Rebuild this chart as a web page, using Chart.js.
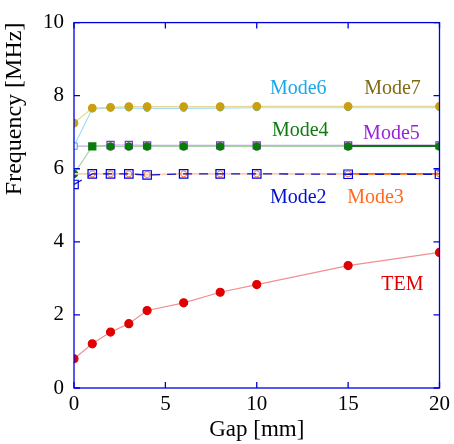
<!DOCTYPE html>
<html>
<head>
    <title>Frequency vs Gap</title>
    <script src="https://cdn.jsdelivr.net/npm/chart.js"></script>
    <style>
        html, body { margin: 0; padding: 0; background: #fff; }
    </style>
</head>
<body>
    <div style="width: 454px; height: 444px;">
        <canvas id="myChart" width="454" height="444"></canvas>
    </div>

    <script>
        // Gap values [mm]
        var gaps = [0, 1, 2, 3, 4, 6, 8, 10, 15, 20];

        // Frequencies [MHz] per mode
        var tem   = [0.80, 1.21, 1.53, 1.76, 2.12, 2.33, 2.62, 2.83, 3.35, 3.71];
        var mode2 = [5.57, 5.86, 5.86, 5.86, 5.83, 5.86, 5.86, 5.86, 5.85, 5.85];
        var mode3 = [5.86, 5.86, 5.86, 5.86, 5.84, 5.86, 5.86, 5.86, 5.86, 5.86];
        var mode4 = [5.86, 6.61, 6.61, 6.61, 6.61, 6.61, 6.61, 6.61, 6.61, 6.61];
        var mode5 = [6.62, 6.62, 6.65, 6.65, 6.64, 6.64, 6.64, 6.64, 6.64, 6.64];
        var mode6 = [6.62, 7.64, 7.66, 7.66, 7.65, 7.65, 7.66, 7.67, 7.67, 7.67];
        var mode7 = [7.25, 7.66, 7.68, 7.70, 7.70, 7.70, 7.70, 7.71, 7.71, 7.71];

        // Tick labels
        var xTicks = [0, 5, 10, 15, 20];
        var yTicks = [0, 2, 4, 6, 8, 10];

        // Text labels placed on the plot (data coordinates)
        var labelNames = ['Mode6', 'Mode7', 'Mode4', 'Mode5', 'Mode2', 'Mode3', 'TEM'];
        var labelX     = [12.27, 17.43, 12.38, 17.37, 12.27, 16.5, 17.97];
        var labelY     = [8.2, 8.2, 7.05, 6.95, 5.2, 5.2, 2.83];
        var labelColors = ['#1aa8e8', '#7f6a10', '#107a10', '#9a22d8', '#0010d0', '#ff6a20', '#e00000'];

        var serif = "'Liberation Serif', 'DejaVu Serif', serif";
        var axisBlue = '#0000dd';

        function pts(ys) {
            return gaps.map(function (g, i) { return { x: g, y: ys[i] }; });
        }

        // last segment drawn in a darker shade
        function lastDark(light, dark) {
            return {
                borderColor: function (ctx) {
                    return ctx.p1DataIndex === gaps.length - 1 ? dark : light;
                }
            };
        }

        var frame = {
            id: 'frame',
            afterDraw: function (chart) {
                var c = chart.ctx, a = chart.chartArea;
                var xs = chart.scales.x, ys = chart.scales.y;
                c.save();
                c.strokeStyle = axisBlue;
                c.lineWidth = 1.3;
                c.strokeRect(a.left, a.top, a.right - a.left, a.bottom - a.top);
                c.beginPath();
                xTicks.forEach(function (t) {
                    var px = xs.getPixelForValue(t);
                    c.moveTo(px, a.bottom); c.lineTo(px, a.bottom - 6);
                    c.moveTo(px, a.top); c.lineTo(px, a.top + 6);
                });
                yTicks.forEach(function (t) {
                    var py = ys.getPixelForValue(t);
                    c.moveTo(a.left, py); c.lineTo(a.left + 6, py);
                    c.moveTo(a.right, py); c.lineTo(a.right - 6, py);
                });
                c.stroke();

                c.font = '20px ' + serif;
                c.textAlign = 'center';
                c.textBaseline = 'middle';
                labelNames.forEach(function (n, i) {
                    c.fillStyle = labelColors[i];
                    c.fillText(n, xs.getPixelForValue(labelX[i]), ys.getPixelForValue(labelY[i]));
                });
                c.restore();
            }
        };

        var ctx = document.getElementById('myChart').getContext('2d');
        var myChart = new Chart(ctx, {
            type: 'scatter',
            data: {
                datasets: [
                    {
                        label: 'TEM', data: pts(tem), showLine: true,
                        borderColor: '#f09090', borderWidth: 1.2,
                        pointBackgroundColor: '#e00000', pointBorderColor: '#e00000',
                        pointRadius: 4
                    },
                    {
                        label: 'Mode2', data: pts(mode2), showLine: true,
                        borderColor: '#1010c0', borderWidth: 1.3, borderDash: [9, 7],
                        pointBackgroundColor: 'rgba(0,0,0,0)', pointBorderColor: '#0000e0',
                        pointStyle: 'rect', pointRadius: 6, pointBorderWidth: 1.2
                    },
                    {
                        label: 'Mode3', data: pts(mode3), showLine: true,
                        borderColor: '#fad0b4', borderWidth: 1.8,
                        segment: lastDark('#fad0b4', '#ff6600'),
                        pointBackgroundColor: 'rgba(0,0,0,0)', pointBorderColor: '#ff7a3a',
                        pointRadius: [0, 3, 3, 3, 3, 3, 3, 3, 3, 3], pointBorderWidth: 1
                    },
                    {
                        label: 'Mode7', data: pts(mode7), showLine: true,
                        borderColor: '#e8d890', borderWidth: 1.2,
                        pointBackgroundColor: '#c8a010', pointBorderColor: '#c8a010',
                        pointRadius: 3.8
                    },
                    {
                        label: 'Mode6', data: pts(mode6), showLine: true,
                        borderColor: '#a0ddf8', borderWidth: 1.2,
                        pointBackgroundColor: '#ffffff', pointBorderColor: '#20b0f0',
                        pointStyle: ['rect', 'circle', 'circle', 'circle', 'circle', 'circle', 'circle', 'circle', 'circle', 'circle'],
                        pointRadius: [4.5, 3, 3, 3, 3, 3, 3, 3, 3, 3], pointBorderWidth: 1
                    },
                    {
                        label: 'Mode4', data: pts(mode4), showLine: true,
                        borderColor: '#a8d4a8', borderWidth: 1.2,
                        segment: lastDark('#a8d4a8', '#0a7a0a'),
                        pointBackgroundColor: '#0a7a0a', pointBorderColor: '#0a7a0a',
                        pointStyle: ['circle', 'rect', 'circle', 'circle', 'circle', 'circle', 'circle', 'circle', 'circle', 'circle'],
                        pointRadius: [3.6, 5, 3.6, 3.6, 3.6, 3.6, 3.6, 3.6, 3.6, 3.6]
                    },
                    {
                        label: 'Mode5', data: pts(mode5), showLine: true,
                        borderColor: '#c4a8ec', borderWidth: 1.2,
                        segment: lastDark('#c4a8ec', '#7020c8'),
                        pointBackgroundColor: 'rgba(0,0,0,0)', pointBorderColor: '#8a2ad8',
                        pointStyle: 'rect', pointRadius: [0, 0, 5, 5, 5, 5, 5, 5, 5, 5], pointBorderWidth: 1.3
                    }
                ]
            },
            options: {
                responsive: false,
                animation: false,
                layout: { padding: { top: 21, right: 12, left: 0, bottom: 0 } },
                plugins: {
                    legend: { display: false },
                    tooltip: { enabled: false }
                },
                scales: {
                    x: {
                        type: 'linear', min: 0, max: 20,
                        afterFit: function (s) { s.height = 56; },
                        afterBuildTicks: function (s) { s.ticks = xTicks.map(function (v) { return { value: v }; }); },
                        grid: { display: false, drawTicks: false },
                        border: { display: false },
                        ticks: { color: '#000', padding: 4, font: { family: serif, size: 21 }, maxRotation: 0 },
                        title: { display: true, text: 'Gap [mm]', color: '#000', padding: { top: 0, bottom: 0 }, font: { family: serif, size: 23 } }
                    },
                    y: {
                        type: 'linear', min: 0, max: 10,
                        afterFit: function (s) { s.width = 74; },
                        afterBuildTicks: function (s) { s.ticks = yTicks.map(function (v) { return { value: v }; }); },
                        grid: { display: false, drawTicks: false },
                        border: { display: false },
                        ticks: { color: '#000', padding: 10, font: { family: serif, size: 21 } },
                        title: { display: true, text: 'Frequency [MHz]', align: 'end', color: '#000', padding: { top: 0, bottom: 0 }, font: { family: serif, size: 24 } }
                    }
                }
            },
            plugins: [frame]
        });
    </script>
</body>
</html>
